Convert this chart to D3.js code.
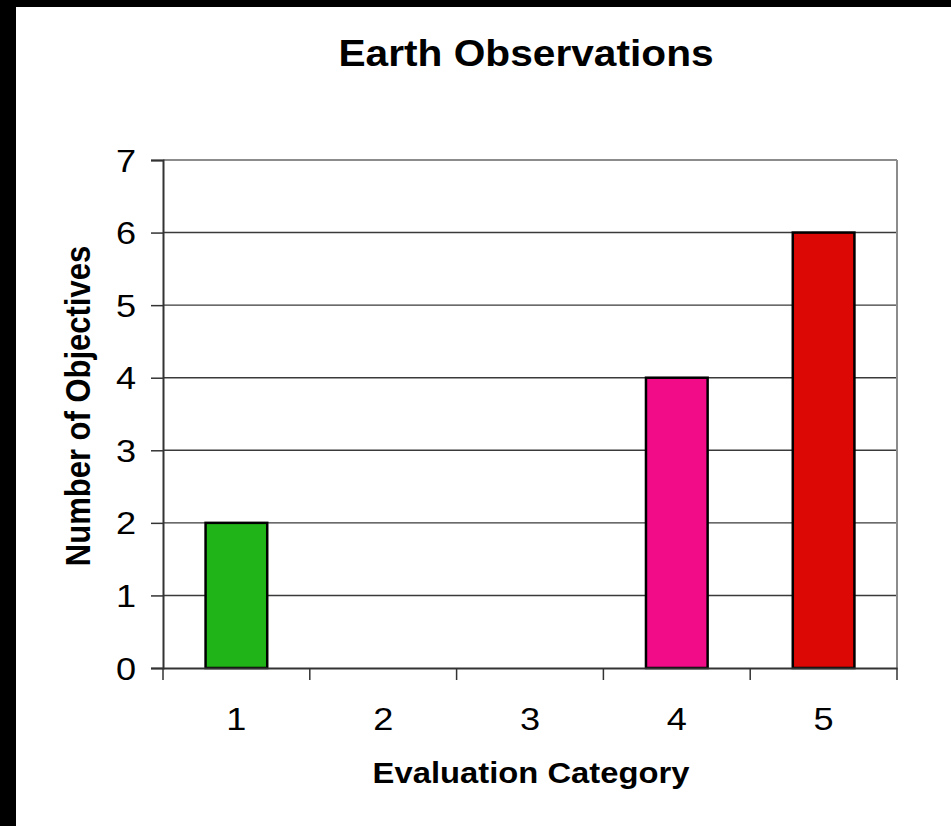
<!DOCTYPE html>
<html><head><meta charset="utf-8">
<script src="https://cdn.jsdelivr.net/npm/d3@7"></script>
<style>body{margin:0;background:#000;}svg{display:block;}text{font-family:Arial,"Liberation Sans",sans-serif;fill:#000;}</style>
</head><body>
<script>
const categories = ["1","2","3","4","5"];
const values = [2,0,0,4,6];
const barColors = ["#20B418","#20B418","#20B418","#F20C88","#DC0805"];
const yTicks = [0,1,2,3,4,5,6,7];
const title = "Earth Observations";
const xTitle = "Evaluation Category";
const yTitle = "Number of Objectives";

const W = 951, H = 826, SX = 1.13;
const svg = d3.select("body").append("svg").attr("width", W).attr("height", H);
svg.append("rect").attr("width", W).attr("height", H).attr("fill", "#000");
svg.append("rect").attr("x", 16).attr("y", 7).attr("width", W - 16).attr("height", H - 7).attr("fill", "#fff");

const L = 163, R = 897, T = 160, B = 668;
const x = d3.scaleBand().domain(categories).range([L, R]).paddingInner(0.58).paddingOuter(0.29);
const xb = d3.scaleBand().domain(categories).range([L, R]).padding(0);
const y = d3.scaleLinear().domain([0, 7]).range([B, T]);

// gridlines
svg.append("g").selectAll("line").data(yTicks.filter(d => d > 0 && d < 7)).join("line")
  .attr("x1", L).attr("x2", R).attr("y1", d => y(d)).attr("y2", d => y(d))
  .attr("stroke", "#3a3a3a").attr("stroke-width", 1.4);
// top & right border
svg.append("line").attr("x1", L).attr("x2", R).attr("y1", T).attr("y2", T).attr("stroke", "#8c8c8c").attr("stroke-width", 2);
svg.append("line").attr("x1", R).attr("x2", R).attr("y1", T).attr("y2", B).attr("stroke", "#8c8c8c").attr("stroke-width", 2);

// bars
svg.append("g").selectAll("rect").data(categories.map((c, i) => ({c, v: values[i], col: barColors[i]})).filter(d => d.v > 0)).join("rect")
  .attr("x", d => x(d.c)).attr("width", x.bandwidth())
  .attr("y", d => y(d.v)).attr("height", d => y(0) - y(d.v))
  .attr("fill", d => d.col).attr("stroke", "#000").attr("stroke-width", 2.5);

// y axis
const yAxis = svg.append("g").attr("transform", `translate(${L},0)`)
  .call(d3.axisLeft(y).tickValues(yTicks).tickSize(12).tickFormat(d3.format("d")));
yAxis.select(".domain").attr("stroke", "#333").attr("stroke-width", 2);
yAxis.selectAll(".tick line").attr("stroke", "#333").attr("stroke-width", 1.5);
yAxis.selectAll(".tick text").remove();
svg.append("g").selectAll("text").data(yTicks).join("text")
  .attr("transform", d => `translate(136,${y(d) + 11.5}) scale(${SX},1)`)
  .attr("text-anchor", "end").attr("font-size", 32).text(d => d);

// x axis
const xAxis = svg.append("g").attr("transform", `translate(0,${B})`)
  .call(d3.axisBottom(xb).tickSize(0).tickFormat(""));
xAxis.select(".domain").attr("stroke", "#333").attr("stroke-width", 2);
xAxis.selectAll(".tick").remove();
const edges = [L].concat(categories.map(c => xb(c) + xb.bandwidth()));
svg.append("g").selectAll("line").data(edges).join("line")
  .attr("x1", d => d).attr("x2", d => d).attr("y1", B).attr("y2", B + 12)
  .attr("stroke", "#333").attr("stroke-width", 1.5);
svg.append("g").selectAll("text").data(categories).join("text")
  .attr("transform", d => `translate(${xb(d) + xb.bandwidth() / 2},730) scale(${SX},1)`)
  .attr("text-anchor", "middle").attr("font-size", 32).text(d => d);

// titles
svg.append("text").attr("transform", `translate(526,66) scale(${SX},1)`)
  .attr("text-anchor", "middle").attr("font-size", 36).attr("font-weight", "bold").text(title);
svg.append("text").attr("transform", `translate(531,783) scale(${SX},1)`)
  .attr("text-anchor", "middle").attr("font-size", 29).attr("font-weight", "bold").text(xTitle);
svg.append("text").attr("transform", `translate(90,406) rotate(-90) scale(1,${SX})`)
  .attr("text-anchor", "middle").attr("font-size", 31).attr("font-weight", "bold").text(yTitle);
</script>
</body></html>
